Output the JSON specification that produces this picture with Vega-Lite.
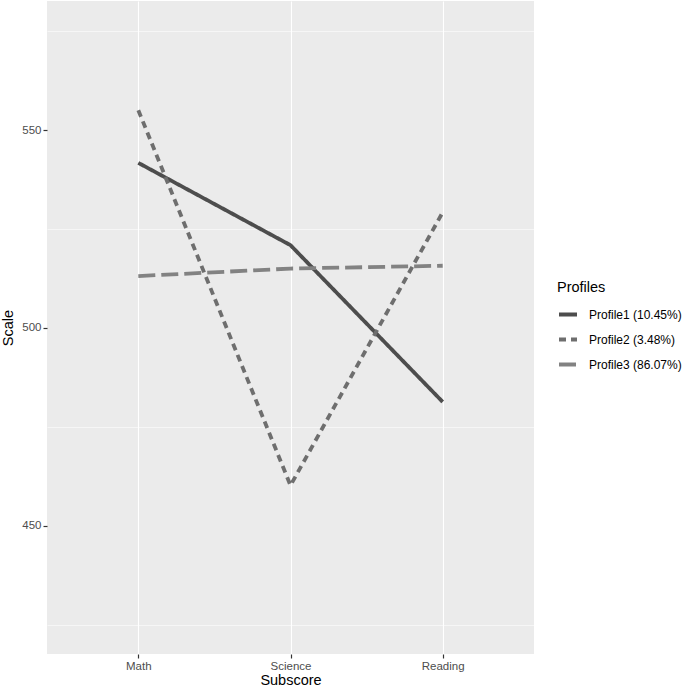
{
  "$schema": "https://vega.github.io/schema/vega-lite/v6.json",
  "width": 487,
  "height": 653,
  "autosize": {"type": "none"},
  "padding": {"left": 47, "top": 1, "right": 151, "bottom": 36},
  "background": "white",
  "config": {
    "view": {"fill": "#EBEBEB", "stroke": null},
    "font": "Liberation Sans",
    "axis": {"domain": false, "ticks": true, "gridColor": "white", "tickColor": "#333333", "tickSize": 4, "tickWidth": 1.2, "labelColor": "#4D4D4D", "labelFontSize": 11.5, "titleFontSize": 14.5, "titleFontWeight": "normal", "titleColor": "black", "labelPadding": 2}
  },
  "data": {"values": [
    {"Subscore": "Math", "Scale": 541.7, "Profile": "Profile1 (10.45%)"},
    {"Subscore": "Science", "Scale": 520.9, "Profile": "Profile1 (10.45%)"},
    {"Subscore": "Reading", "Scale": 481.3, "Profile": "Profile1 (10.45%)"},
    {"Subscore": "Math", "Scale": 555.0, "Profile": "Profile2 (3.48%)"},
    {"Subscore": "Science", "Scale": 460.2, "Profile": "Profile2 (3.48%)"},
    {"Subscore": "Reading", "Scale": 529.2, "Profile": "Profile2 (3.48%)"},
    {"Subscore": "Math", "Scale": 513.1, "Profile": "Profile3 (86.07%)"},
    {"Subscore": "Science", "Scale": 515.0, "Profile": "Profile3 (86.07%)"},
    {"Subscore": "Reading", "Scale": 515.7, "Profile": "Profile3 (86.07%)"}
  ]},
  "resolve": {"axis": {"y": "independent"}},
  "layer": [
    {
      "mark": {"type": "line", "strokeWidth": 0, "opacity": 0},
      "encoding": {
        "x": {"field": "Subscore", "type": "nominal", "sort": ["Math", "Science", "Reading"],
          "scale": {"type": "point", "padding": 0.6},
          "axis": {"labelAngle": 0, "grid": true, "ticks": true, "gridWidth": 1.1, "title": "Subscore", "titlePadding": 2}},
        "y": {"field": "Scale", "type": "quantitative",
          "scale": {"domain": [417.6, 582.6], "nice": false, "zero": false},
          "axis": {"orient": "right", "values": [425, 475, 525, 575], "title": null, "labels": false, "ticks": false, "gridWidth": 0.55}}
      }
    },
    {
      "mark": {"type": "line", "strokeWidth": 3.8, "strokeCap": "butt", "clip": true},
      "encoding": {
        "x": {"field": "Subscore", "type": "nominal", "sort": ["Math", "Science", "Reading"]},
        "y": {"field": "Scale", "type": "quantitative",
          "axis": {"orient": "left", "values": [450, 500, 550], "ticks": true, "title": "Scale", "titlePadding": 6, "gridWidth": 1.1, "labelColor": "#4D4D4D", "tickColor": "#333333"}},
        "color": {"field": "Profile", "type": "nominal",
          "scale": {"range": ["#4D4D4D", "#6E6E6E", "#828282"]},
          "legend": {"title": "Profiles", "orient": "none", "legendX": 510, "legendY": 280,
            "titleFontSize": 14.5, "titleFontWeight": "normal", "titleColor": "black", "titlePadding": 8,
            "labelFontSize": 12, "labelColor": "black", "symbolType": "stroke", "symbolSize": 324,
            "symbolStrokeWidth": 4, "rowPadding": 6, "labelOffset": 10}},
        "strokeDash": {"field": "Profile", "type": "nominal",
          "scale": {"range": [[1, 0], [7, 5], [17, 6]]}, "legend": null}
      }
    }
  ]
}
